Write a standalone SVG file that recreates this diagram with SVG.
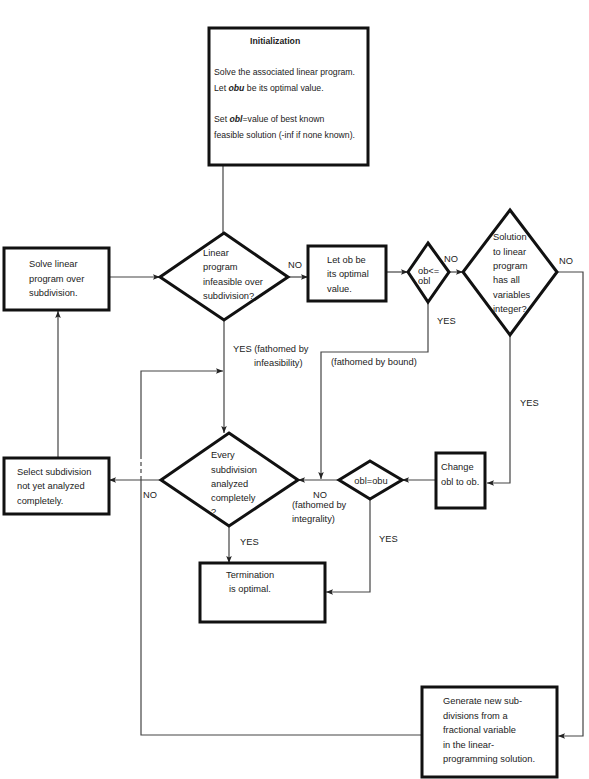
<svg xmlns="http://www.w3.org/2000/svg" width="589" height="779" viewBox="0 0 589 779">
<defs>
<marker id="arr" viewBox="0 0 10 10" refX="10" refY="5" markerWidth="7" markerHeight="7" markerUnits="userSpaceOnUse" orient="auto">
<path d="M0,1 L10,5 L0,9 L2,5 Z" fill="#222"/>
</marker>
</defs>
<style>
.box{fill:#fff;stroke:#111;stroke-width:3}
.c{fill:none;stroke:#444;stroke-width:1.2}
text{font-family:"Liberation Sans",Arial,sans-serif;font-size:9.3px;fill:#222}
.init{font-size:8.7px}
.b{font-weight:bold}
</style>
<rect width="589" height="779" fill="#fff"/>
<g id="connectors">
<line class="c" x1="223" y1="165" x2="223" y2="233"/>
<line class="c" x1="109" y1="277" x2="160" y2="277" marker-end="url(#arr)"/>
<line class="c" x1="288" y1="277" x2="308" y2="277" marker-end="url(#arr)"/>
<line class="c" x1="386" y1="272" x2="408" y2="272" marker-end="url(#arr)"/>
<line class="c" x1="449" y1="272" x2="463" y2="272" marker-end="url(#arr)"/>
<polyline class="c" points="557,272 583,272 583,736 558,736" marker-end="url(#arr)"/>
<polyline class="c" points="428,302 428,352 321,352 321,479" marker-end="url(#arr)"/>
<polyline class="c" points="510,335 510,483 487,483" marker-end="url(#arr)"/>
<line class="c" x1="436" y1="480" x2="402" y2="480" marker-end="url(#arr)"/>
<line class="c" x1="339" y1="480" x2="298" y2="480" marker-end="url(#arr)"/>
<line class="c" x1="224" y1="321" x2="224" y2="433" marker-end="url(#arr)"/>
<line class="c" x1="161" y1="480" x2="109" y2="480" marker-end="url(#arr)"/>
<line class="c" x1="58" y1="458" x2="58" y2="311" marker-end="url(#arr)"/>
<line class="c" x1="229" y1="526" x2="229" y2="563" marker-end="url(#arr)"/>
<polyline class="c" points="370,499 370,592 326,592" marker-end="url(#arr)"/>
<polyline class="c" points="421,735 141,735 141,480"/>
<line class="c" x1="141" y1="480" x2="141" y2="457" stroke-dasharray="4,3"/>
<polyline class="c" points="141,457 141,371 223,371" marker-end="url(#arr)"/>
</g>
<g id="labels">
<text x="288" y="268">NO</text>
<text x="444" y="262">NO</text>
<text x="559" y="264">NO</text>
<text x="437" y="324">YES</text>
<text x="233" y="352">YES (fathomed by</text>
<text x="254" y="366">infeasibility)</text>
<text x="331" y="365">(fathomed by bound)</text>
<text x="520" y="406">YES</text>
<text x="143" y="498">NO</text>
<text x="313" y="498">NO</text>
<text x="292" y="508">(fathomed by</text>
<text x="292" y="522">integrality)</text>
<text x="240" y="545">YES</text>
<text x="379" y="542">YES</text>
</g>
<g id="init">
<rect class="box" x="209" y="28" width="159" height="137"/>
<text class="init b" x="250" y="44">Initialization</text>
<text class="init" x="214" y="75">Solve the associated linear program.</text>
<text class="init" x="214" y="91">Let <tspan font-weight="bold" font-style="italic">obu</tspan> be its optimal value.</text>
<text class="init" x="214" y="122">Set <tspan font-weight="bold" font-style="italic">obl</tspan>=value of best known</text>
<text class="init" x="214" y="138">feasible solution (-inf if none known).</text>
</g>
<g id="solve">
<rect class="box" x="4" y="248" width="105" height="62"/>
<text x="29" y="267">Solve linear</text>
<text x="29" y="282">program over</text>
<text x="29" y="296">subdivision.</text>
</g>
<g id="infeasible">
<polygon class="box" points="224,233 288,277 224,320 160,277"/>
<text x="203" y="256">Linear</text>
<text x="203" y="270">program</text>
<text x="203" y="285">infeasible over</text>
<text x="203" y="299">subdivision?</text>
</g>
<g id="letob">
<rect class="box" x="308" y="246" width="78" height="55"/>
<text x="327" y="263">Let ob be</text>
<text x="327" y="277">its optimal</text>
<text x="327" y="292">value.</text>
</g>
<g id="obcmp">
<polygon class="box" points="428,243 449,272 428,302 408,272"/>
<text x="418" y="274">ob&lt;=</text>
<text x="418" y="284">obl</text>
</g>
<g id="integer">
<polygon class="box" points="510,210 557,272 510,335 463,272"/>
<text x="493" y="240">Solution</text>
<text x="493" y="255">to linear</text>
<text x="493" y="269">program</text>
<text x="493" y="283">has all</text>
<text x="493" y="298">variables</text>
<text x="493" y="312">integer?</text>
</g>
<g id="change">
<rect class="box" x="436" y="453" width="49" height="55"/>
<text x="441" y="470">Change</text>
<text x="441" y="485">obl to ob.</text>
</g>
<g id="oblobu">
<polygon class="box" points="370,461 402,480 370,499 339,480"/>
<text x="371" y="484" text-anchor="middle">obl=obu</text>
</g>
<g id="every">
<polygon class="box" points="229,433 298,480 229,526 161,480"/>
<text x="211" y="458">Every</text>
<text x="211" y="473">subdivision</text>
<text x="211" y="487">analyzed</text>
<text x="211" y="501">completely</text>
<text x="211" y="515">?</text>
</g>
<g id="select">
<rect class="box" x="4" y="458" width="105" height="56"/>
<text x="17" y="475">Select subdivision</text>
<text x="17" y="489">not yet analyzed</text>
<text x="17" y="504">completely.</text>
</g>
<g id="termination">
<rect class="box" x="200" y="563" width="125" height="59"/>
<text x="226" y="578">Termination</text>
<text x="229" y="592">is optimal.</text>
</g>
<g id="generate">
<rect class="box" x="422" y="687" width="135" height="90"/>
<text x="443" y="704">Generate new sub-</text>
<text x="443" y="719">divisions from a</text>
<text x="443" y="733">fractional variable</text>
<text x="443" y="748">in the linear-</text>
<text x="443" y="762">programming solution.</text>
</g>
</svg>
